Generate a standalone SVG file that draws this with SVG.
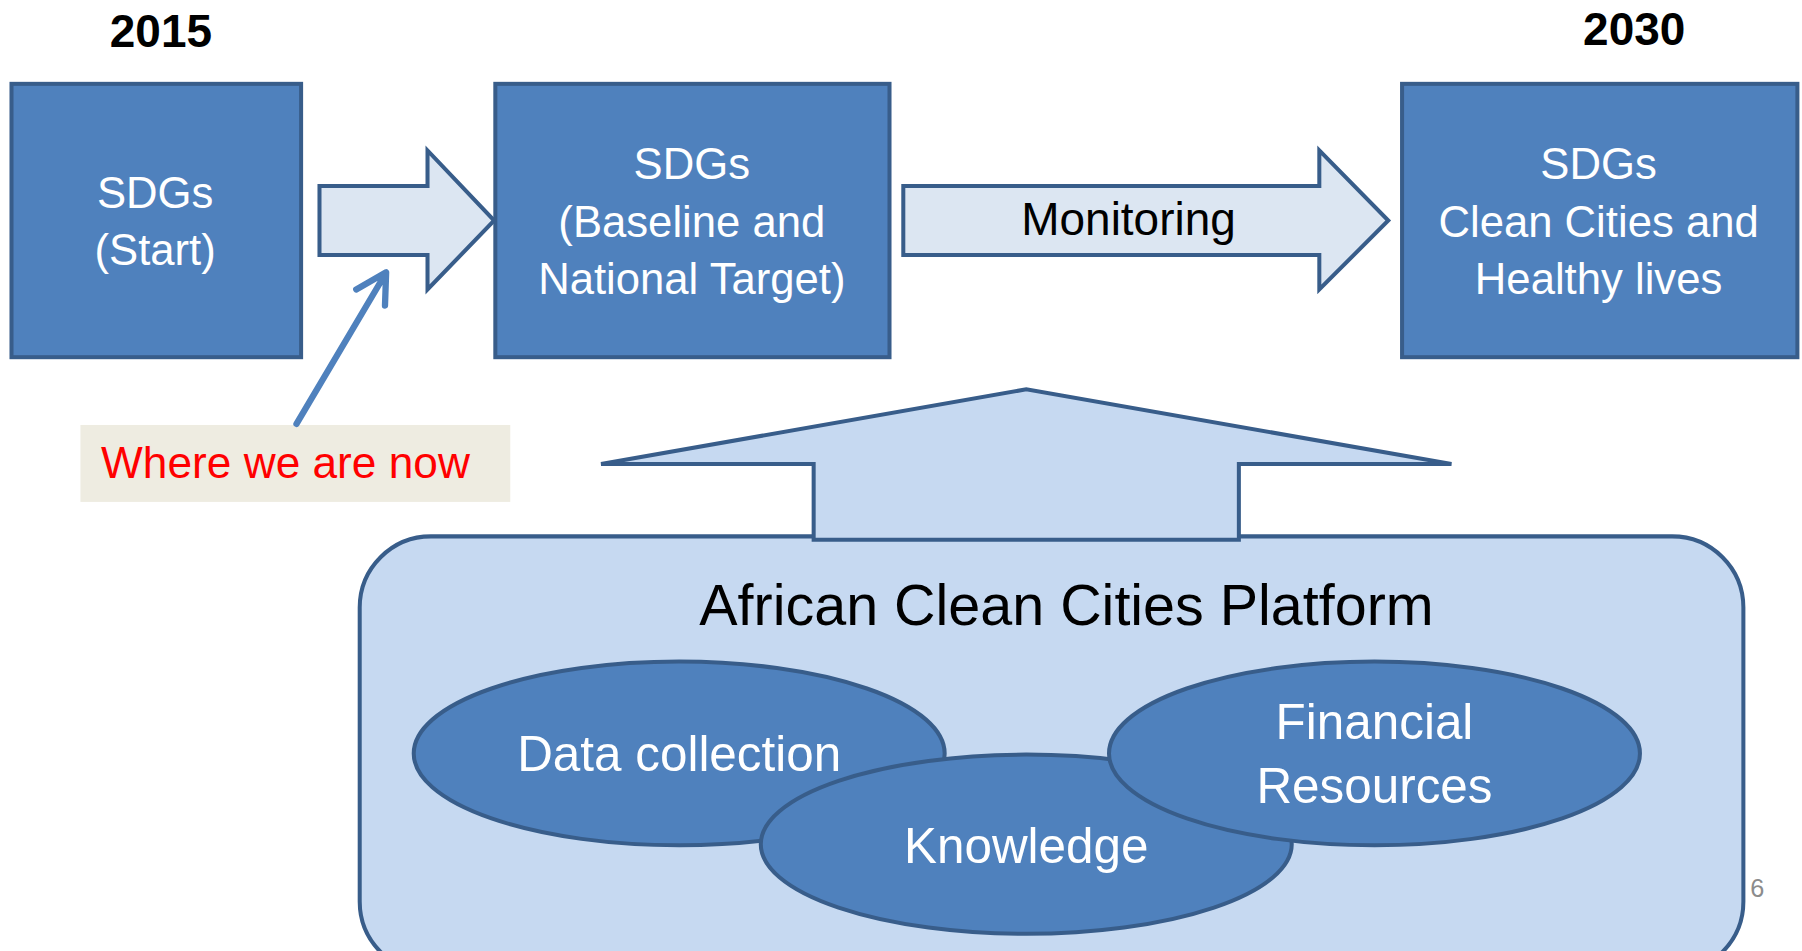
<svg xmlns="http://www.w3.org/2000/svg" width="1802" height="951" viewBox="0 0 1802 951">
<defs>
<style>
.box{fill:#4F81BD;stroke:#385D8A;stroke-width:3.5}
.barrow{fill:#DCE6F2;stroke:#385D8A;stroke-width:3.5;stroke-linejoin:miter}
.light{fill:#C6D9F1;stroke:#385D8A;stroke-width:3.5}
.ell{fill:#4F81BD;stroke:#385D8A;stroke-width:3.5}
.wt{font-family:"Liberation Sans",Arial,sans-serif;font-size:38px;fill:#FFFFFF;text-anchor:middle}
.bt{font-family:"Liberation Sans",Arial,sans-serif;font-size:38px;fill:#000000;text-anchor:middle}
.yr{font-family:"Liberation Sans",Arial,sans-serif;font-size:40px;font-weight:bold;fill:#000000;text-anchor:middle}
</style>
</defs>
<rect width="1802" height="951" fill="#FFFFFF"/>
<g transform="scale(1.14923,1.14855)">
<g id="year2015"><text class="yr" x="140" y="41">2015</text></g>
<g id="year2030"><text class="yr" x="1422" y="39">2030</text></g>

<g id="platform">
<rect class="light" x="313" y="467" width="1204" height="380" rx="62" ry="62"/>
<text class="bt" x="928" y="544" style="font-size:50px">African Clean Cities Platform</text>
</g>

<g id="box-start">
<rect class="box" x="10" y="73" width="252" height="238"/>
<text class="wt" x="135" y="181">SDGs</text>
<text class="wt" x="135" y="231">(Start)</text>
</g>
<g id="box-baseline">
<rect class="box" x="431" y="73" width="343" height="238"/>
<text class="wt" x="602" y="156">SDGs</text>
<text class="wt" x="602" y="206">(Baseline and</text>
<text class="wt" x="602" y="256">National Target)</text>
</g>
<g id="box-2030">
<rect class="box" x="1220" y="73" width="344" height="238"/>
<text class="wt" x="1391" y="156">SDGs</text>
<text class="wt" x="1391" y="206">Clean Cities and</text>
<text class="wt" x="1391" y="256">Healthy lives</text>
</g>

<g id="note">
<rect x="70" y="370" width="374" height="67" fill="#EEECE1"/>
<text x="88" y="416" style="font-family:'Liberation Sans',Arial,sans-serif;font-size:38.5px;fill:#FF0000">Where we are now</text>
</g>

<g id="connectors">
<polygon class="barrow" points="278,162 372,162 372,131 430,192 372,252 372,222 278,222"/>
<polygon class="barrow" points="786,162 1148,162 1148,131 1208,192 1148,252 1148,222 786,222"/>
<path d="M258,369 L335,239 M310,252 L336,237 L335,266" fill="none" stroke="#4F81BD" stroke-width="5.5" stroke-linecap="round" stroke-linejoin="round"/>
<polygon class="light" points="523,404 893,339 1263,404 1078,404 1078,470 708,470 708,404"/>
</g>
<g id="monitoring-label"><text class="bt" x="982" y="205" style="font-size:40px">Monitoring</text></g>

<g id="data-collection">
<ellipse class="ell" cx="591" cy="656" rx="231" ry="80"/>
<text class="wt" x="591" y="671" style="font-size:43px">Data collection</text>
</g>
<g id="knowledge">
<ellipse class="ell" cx="893" cy="735" rx="231" ry="78"/>
<text class="wt" x="893" y="751" style="font-size:43px">Knowledge</text>
</g>
<g id="financial">
<ellipse class="ell" cx="1196" cy="656" rx="231" ry="80"/>
<text class="wt" x="1196" y="643" style="font-size:43px">Financial</text>
<text class="wt" x="1196" y="699" style="font-size:43px">Resources</text>
</g>
<g id="page-number"><text x="1523" y="781" style="font-family:'Liberation Sans',Arial,sans-serif;font-size:22px;fill:#8C8C8C">6</text></g>
</g>
</svg>
